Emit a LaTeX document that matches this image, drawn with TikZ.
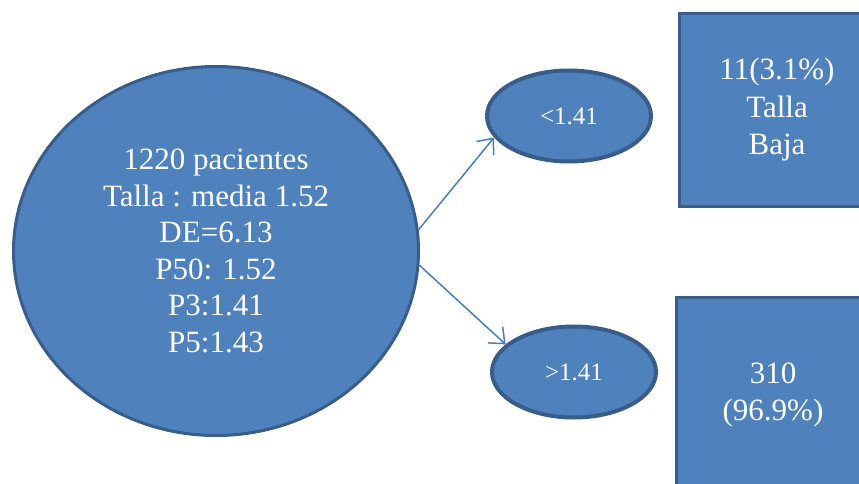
\documentclass[tikz,border=0pt]{standalone}
\usepackage{fontspec}
\setmainfont{Liberation Serif}
\newfontfamily\serifnum{Liberation Serif}
\usetikzlibrary{arrows.meta}
\usetikzlibrary{shapes.geometric}
\usepackage{xcolor}
\definecolor{myfill}{HTML}{4F81BD}
\definecolor{myborder}{HTML}{385D8A}
\definecolor{myarrow}{HTML}{4A7EBB}
\tikzset{
  bignode/.style={ellipse,draw=myborder,fill=myfill,line width=3,text=white,align=center,
    font=\serifnum\fontsize{31}{36.5}\selectfont,inner sep=0},
  node cut/.style={ellipse,draw=myborder,fill=myfill,line width=4,text=white,
    minimum width=164,minimum height=91,font=\serifnum\fontsize{25}{29}\selectfont},
  node result/.style={rectangle,draw=myborder,fill=myfill,line width=3,text=white,align=center,
    font=\serifnum\fontsize{31}{37.5}\selectfont},
  connect arrow/.style={-{Straight Barb[length=13,width=22,line width=1.5]},line width=1.5,myarrow}
}

\begin{document}
\begin{tikzpicture}[x=1pt,y=-1pt]
  \useasboundingbox (0,0) rectangle (859,484);
  \clip (0,0) rectangle (859,484);
  \node[bignode,minimum width=405,minimum height=369] (total) at (216,251)
    {1220 pacientes\\Talla : media 1.52\\DE=6.13\\P50: 1.52\\P3:1.41\\P5:1.43};
  \node[node cut] (low) at (569,116) {<1.41};
  \node[node cut] (high) at (574,372) {>1.41};
  \node[node result,minimum width=196,minimum height=193] (baja) at (777,110)
    {11(3.1\%)\\Talla\\Baja};
  \node[node result,minimum width=194,minimum height=196] (normal) at (773,395)
    {310\\(96.9\%)};

  \draw[connect arrow] (total.6) -- (low.196);
  \draw[connect arrow] (total.-4) -- (high.158);
\end{tikzpicture}
\end{document}
